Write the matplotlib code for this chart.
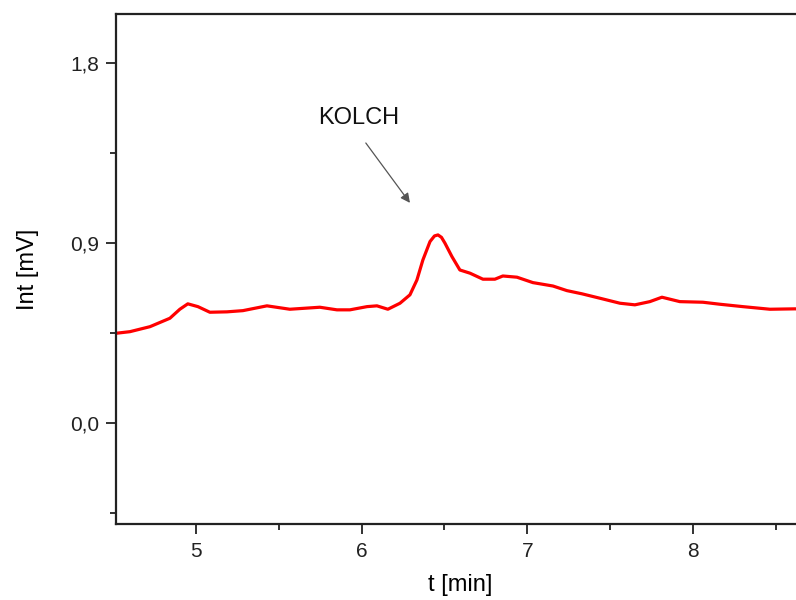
import matplotlib.pyplot as plt
from matplotlib.ticker import FixedLocator, MultipleLocator, FuncFormatter

plt.rcParams['font.family'] = ['Liberation Sans', 'DejaVu Sans']

# chromatogram trace, time in minutes vs detector signal in mV
t_min = [4.520, 4.604, 4.725, 4.845, 4.905, 4.953, 5.014, 5.086, 5.189, 5.285,
         5.430, 5.568, 5.749, 5.852, 5.930, 6.033, 6.093, 6.159, 6.232, 6.292,
         6.334, 6.370, 6.413, 6.440, 6.461, 6.482, 6.503, 6.545, 6.593, 6.654,
         6.732, 6.804, 6.852, 6.937, 7.033, 7.154, 7.238, 7.329, 7.437, 7.558,
         7.648, 7.738, 7.811, 7.919, 8.058, 8.160, 8.299, 8.462, 8.613, 8.700]
signal_mv = [0.449, 0.457, 0.482, 0.524, 0.569, 0.596, 0.582, 0.554, 0.556, 0.562,
             0.586, 0.569, 0.579, 0.566, 0.566, 0.582, 0.586, 0.569, 0.599, 0.641,
             0.715, 0.815, 0.907, 0.935, 0.940, 0.928, 0.899, 0.832, 0.765, 0.749,
             0.719, 0.719, 0.735, 0.729, 0.702, 0.685, 0.662, 0.646, 0.624, 0.599,
             0.591, 0.607, 0.629, 0.607, 0.604, 0.594, 0.582, 0.569, 0.571, 0.568]

peak_label = "KOLCH"
label_pos = (5.737, 1.524)
arrow_tail = (6.026, 1.399)
arrow_head = (6.292, 1.100)

fig = plt.figure(figsize=(7.96, 6.0), dpi=100)
ax = fig.add_axes([0.1457, 0.1267, 0.892, 0.85])

ax.plot(t_min, signal_mv, color='#ff0000', linewidth=2.3, solid_joinstyle='round')

ax.set_xlim(4.52, 8.8)
ax.set_ylim(-0.503, 2.043)

ax.xaxis.set_major_locator(FixedLocator([5, 6, 7, 8]))
ax.xaxis.set_minor_locator(MultipleLocator(0.5))
ax.yaxis.set_major_locator(FixedLocator([0.0, 0.9, 1.8]))
ax.yaxis.set_minor_locator(MultipleLocator(0.45))
ax.yaxis.set_major_formatter(FuncFormatter(lambda v, p: f"{v:.1f}".replace('.', ',')))
ax.xaxis.set_major_formatter(FuncFormatter(lambda v, p: f"{v:g}"))

ax.tick_params(which='major', direction='out', length=7, width=1.3,
               labelsize=15, pad=5, colors='#222222')
ax.tick_params(which='minor', direction='out', length=4, width=1.3, colors='#222222')
ax.tick_params(axis='x', which='major', pad=6)
for s in ax.spines.values():
    s.set_linewidth(1.6)
    s.set_color('#222222')

ax.set_ylabel("Int [mV]", fontsize=17)
ax.set_xlabel("t [min]", fontsize=17)
ax.yaxis.set_label_coords(-0.108, 0.5)
ax.xaxis.set_label_coords(0.485, -0.098)

ax.text(*label_pos, peak_label, fontsize=17, ha='left', va='center', color='#111111')
ax.annotate("", xy=arrow_head, xytext=arrow_tail,
            arrowprops=dict(arrowstyle='-|>', color='#555555', lw=0.9,
                            mutation_scale=14, shrinkA=0, shrinkB=0))

fig.savefig("out.png", dpi=100)
